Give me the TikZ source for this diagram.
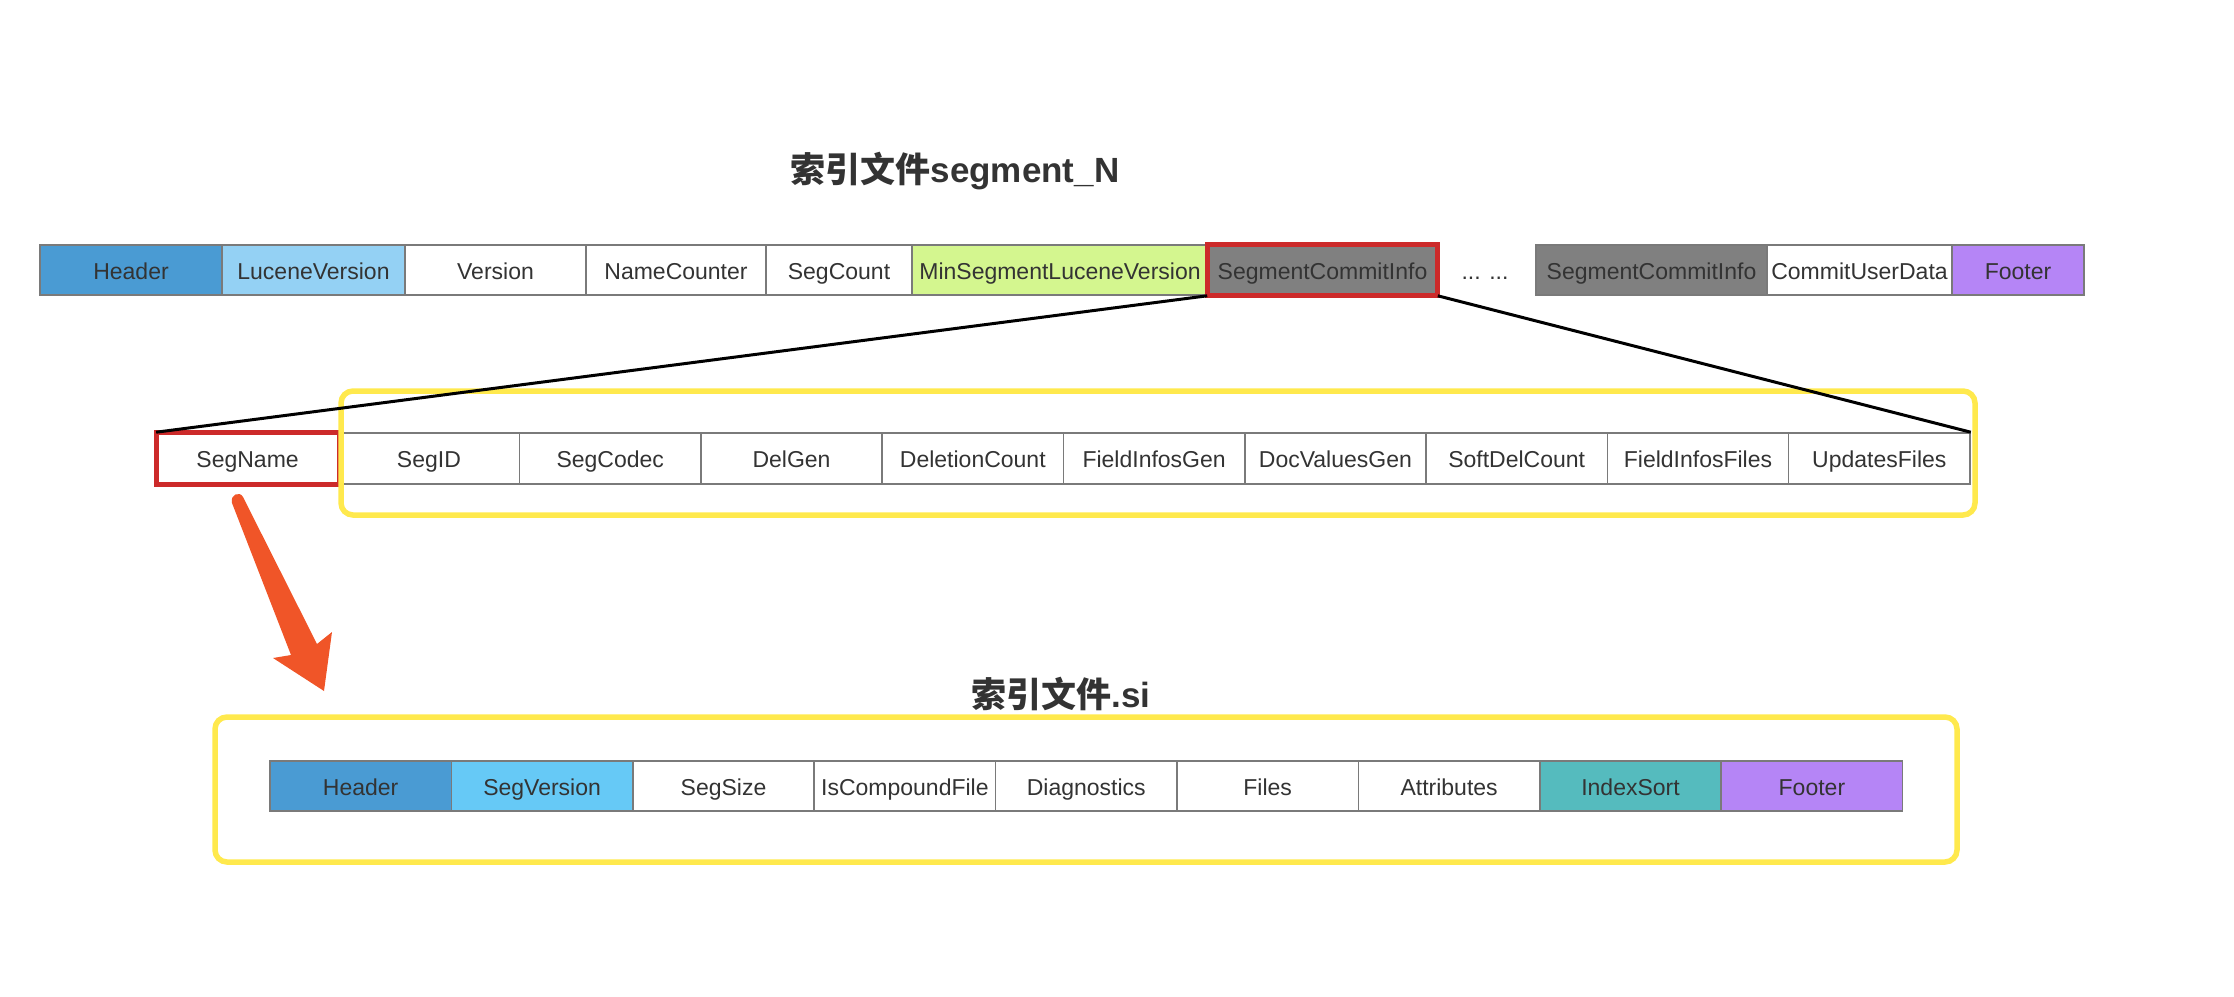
\documentclass[tikz,border=0pt]{standalone}
\usepackage{fontspec}
\setmainfont{Liberation Sans}
\newfontfamily\cjk{Noto Sans CJK SC}
\definecolor{txt}{HTML}{333333}
\definecolor{cellline}{HTML}{7A7A7A}
\definecolor{hdr}{HTML}{4A9BD3}
\definecolor{lucv}{HTML}{94D1F4}
\definecolor{segv}{HTML}{66C9F6}
\definecolor{minv}{HTML}{D4F68F}
\definecolor{sci}{HTML}{808080}
\definecolor{foot}{HTML}{B585F6}
\definecolor{isort}{HTML}{55BBBE}
\definecolor{redb}{HTML}{CC2A2A}
\definecolor{yel}{HTML}{FFE94D}
\definecolor{arr}{HTML}{F05528}
\begin{document}
\begin{tikzpicture}[x=1pt,y=-1pt,
  celltext/.style={text=txt, font=\fontsize{23}{27}\selectfont, text height=18pt, text depth=0pt},
  cell/.style={celltext, draw=cellline, line width=1.6pt, minimum height=50pt, inner sep=0pt, fill=white},
  title/.style={text=txt, font=\fontsize{35}{40}\selectfont\bfseries, inner sep=0pt},
  redframe/.style={draw=redb, line width=5pt},
  yframe/.style={draw=yel, line width=5.5pt, rounded corners=12pt},
  link/.style={draw=black, line width=3pt}]
\useasboundingbox (0,0) rectangle (2234,996);

% title 1
\node[title] (t1) at (955,171) {{\cjk 索引文件}segment\_N};

% top row
\node[cell, fill=hdr, minimum width=182pt] (h1) at (131,270) {Header};
\node[cell, fill=lucv, minimum width=183pt] (lv) at (313.5,270) {LuceneVersion};
\node[cell, minimum width=181pt] (ver) at (495.5,270) {Version};
\node[cell, minimum width=180pt] (nc) at (676,270) {NameCounter};
\node[cell, minimum width=146pt] (sc) at (839,270) {SegCount};
\node[cell, fill=minv, minimum width=296pt] (msv) at (1060,270) {MinSegmentLuceneVersion};
\node[cell, fill=sci, minimum width=229pt] (sci1) at (1322.5,270) {SegmentCommitInfo};
\node[celltext, inner sep=0pt] (dots) at (1485,270) {... ...};
\node[cell, fill=sci, minimum width=231pt] (sci2) at (1651.5,270) {SegmentCommitInfo};
\node[cell, minimum width=185pt] (cud) at (1859.5,270) {CommitUserData};
\node[cell, fill=foot, minimum width=132pt] (f1) at (2018,270) {Footer};
\draw[redframe] (sci1.north west) rectangle (sci1.south east);

% middle row
\node[cell, minimum width=181.3pt, minimum height=51pt] (sn) at (247.6,458.5) {SegName};
\node[cell, minimum width=181.3pt, minimum height=51pt] (sid) at (428.9,458.5) {SegID};
\node[cell, minimum width=181.3pt, minimum height=51pt] (scd) at (610.2,458.5) {SegCodec};
\node[cell, minimum width=181.3pt, minimum height=51pt] (dg) at (791.5,458.5) {DelGen};
\node[cell, minimum width=181.3pt, minimum height=51pt] (dc) at (972.8,458.5) {DeletionCount};
\node[cell, minimum width=181.3pt, minimum height=51pt] (fig) at (1154.1,458.5) {FieldInfosGen};
\node[cell, minimum width=181.3pt, minimum height=51pt] (dvg) at (1335.4,458.5) {DocValuesGen};
\node[cell, minimum width=181.3pt, minimum height=51pt] (sdc) at (1516.7,458.5) {SoftDelCount};
\node[cell, minimum width=181.3pt, minimum height=51pt] (fif) at (1698.0,458.5) {FieldInfosFiles};
\node[cell, minimum width=181.3pt, minimum height=51pt] (uf) at (1879.3,458.5) {UpdatesFiles};
\draw[redframe] (sn.north west) rectangle (sn.south east);
\coordinate (y1a) at (341,391);
\coordinate (y1b) at (1975,515);
\draw[yframe] (y1a) rectangle (y1b);

% connectors
\draw[link] (sci1.south west) -- (sn.north west);
\draw[link] (sci1.south east) -- (uf.north east);

% orange arrow
\fill[arr] (232,503) -- (291,655) -- (273,658) -- (324,691) -- (332,632) -- (317,644)
  -- (243,497) .. controls (240,491) and (230,494) .. cycle;

% title 2
\node[title] (t2) at (1061,694) {{\cjk 索引文件}.si};

% bottom box and row
\coordinate (y2a) at (215,717);
\coordinate (y2b) at (1957,862);
\draw[yframe] (y2a) rectangle (y2b);
\node[cell, fill=hdr, minimum width=181.4pt] (h2) at (360.7,786) {Header};
\node[cell, fill=segv, minimum width=181.4pt] (sv) at (542.1,786) {SegVersion};
\node[cell, minimum width=181.4pt] (ss) at (723.5,786) {SegSize};
\node[cell, minimum width=181.4pt] (icf) at (904.9,786) {IsCompoundFile};
\node[cell, minimum width=181.4pt] (dia) at (1086.3,786) {Diagnostics};
\node[cell, minimum width=181.4pt] (fl) at (1267.7,786) {Files};
\node[cell, minimum width=181.4pt] (att) at (1449.1,786) {Attributes};
\node[cell, fill=isort, minimum width=181.4pt] (is) at (1630.5,786) {IndexSort};
\node[cell, fill=foot, minimum width=181.4pt] (f2) at (1811.9,786) {Footer};
\end{tikzpicture}
\end{document}
